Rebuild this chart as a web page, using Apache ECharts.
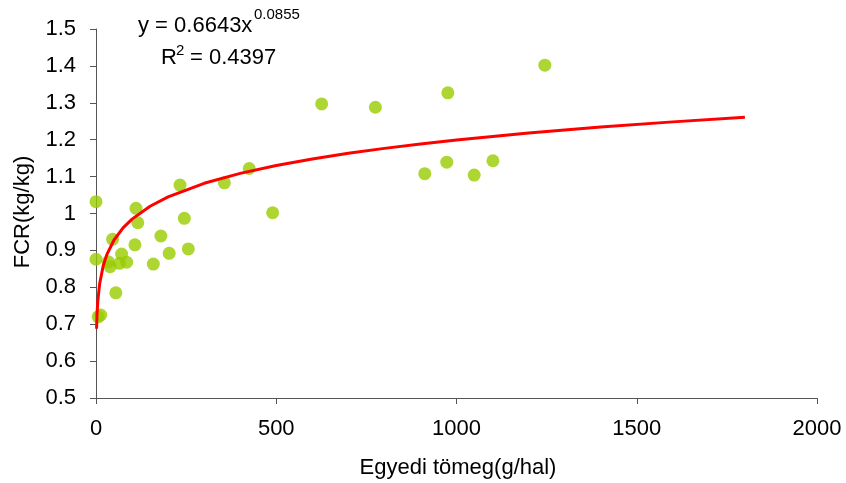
<!DOCTYPE html>
<html>
<head>
<meta charset="utf-8">
<script src="https://cdn.jsdelivr.net/npm/echarts@6/dist/echarts.min.js"></script>
<style>html,body{margin:0;padding:0;background:#fff}#c{width:846px;height:483px}</style>
</head>
<body>
<div id="c"></div>
<script>
var pointX = [0, 0, 6, 13, 34, 39, 46, 55, 65, 71, 85, 108, 111, 116, 159, 180, 203, 233, 245, 256, 356, 425, 490, 626, 775, 912, 973, 976, 1049, 1101, 1245];
var pointY = [1.032, 0.876, 0.720, 0.725, 0.869, 0.856, 0.930, 0.785, 0.865, 0.890, 0.868, 0.915, 1.014, 0.975, 0.863, 0.939, 0.892, 1.077, 0.987, 0.904, 1.083, 1.122, 1.002, 1.297, 1.288, 1.108, 1.139, 1.327, 1.104, 1.143, 1.402];
var trendX = [1.5, 3, 5, 10, 20, 30, 50, 75, 100, 150, 200, 300, 400, 500, 600, 700, 800, 900, 1000, 1200, 1400, 1600, 1800];
var trendY = [0.6877, 0.7297, 0.7623, 0.8088, 0.8582, 0.8885, 0.9282, 0.9609, 0.9848, 1.0196, 1.0450, 1.0818, 1.1088, 1.1301, 1.1479, 1.1631, 1.1765, 1.1884, 1.1991, 1.2180, 1.2341, 1.2483, 1.2609];
var eqMain = 'y = 0.6643x';
var eqExp = '0.0855';
var r2Base = 'R';
var r2Sup = '2';
var r2Rest = '= 0.4397';
var xTitle = 'Egyedi tömeg(g/hal)';
var yTitle = 'FCR(kg/kg)';

var scatterData = pointX.map(function (x, i) { return [x, pointY[i]]; });
var trendData = trendX.map(function (x, i) { return [x, trendY[i]]; });
var F = 'Liberation Sans, Arial, sans-serif';
var axisColor = '#555';

var chart = echarts.init(document.getElementById('c'), null, { renderer: 'canvas' });
chart.setOption({
  animation: false,
  backgroundColor: '#fff',
  grid: { left: 96, right: 29, top: 29, bottom: 85, containLabel: false },
  xAxis: {
    type: 'value', min: 0, max: 2000, interval: 500,
    axisLine: { show: true, onZero: false, lineStyle: { color: axisColor, width: 1 } },
    axisTick: { show: true, inside: false, length: 6, lineStyle: { color: axisColor } },
    axisLabel: { color: '#000', fontFamily: F, fontSize: 22, margin: 20,
      formatter: function (v) { return String(v); } },
    splitLine: { show: false }
  },
  yAxis: {
    type: 'value', min: 0.5, max: 1.5, interval: 0.1,
    axisLine: { show: true, onZero: false, lineStyle: { color: axisColor, width: 1 } },
    axisTick: { show: true, inside: false, length: 6, lineStyle: { color: axisColor } },
    axisLabel: { color: '#000', fontFamily: F, fontSize: 22, margin: 20,
      formatter: function (v) { return String(+v.toFixed(1)); } },
    splitLine: { show: false }
  },
  series: [
    {
      type: 'scatter', data: scatterData, symbol: 'circle', symbolSize: 13,
      itemStyle: { color: '#99cc00' }, z: 2
    },
    {
      type: 'line', data: trendData, showSymbol: false, smooth: false,
      lineStyle: { color: '#ff0000', width: 3 }, z: 3
    }
  ],
  graphic: [
    { type: 'text', x: 138, y: 26, style: { text: eqMain, font: '22px ' + F, fill: '#000', align: 'left', verticalAlign: 'middle' } },
    { type: 'text', x: 254, y: 15, style: { text: eqExp, font: '15px ' + F, fill: '#000', align: 'left', verticalAlign: 'middle' } },
    { type: 'text', x: 161, y: 58, style: { text: r2Base, font: '22px ' + F, fill: '#000', align: 'left', verticalAlign: 'middle' } },
    { type: 'text', x: 176, y: 51, style: { text: r2Sup, font: '15px ' + F, fill: '#000', align: 'left', verticalAlign: 'middle' } },
    { type: 'text', x: 190, y: 58, style: { text: r2Rest, font: '22px ' + F, fill: '#000', align: 'left', verticalAlign: 'middle' } },
    { type: 'text', x: 458, y: 468, style: { text: xTitle, font: '22px ' + F, fill: '#000', align: 'center', verticalAlign: 'middle' } },
    { type: 'text', x: 23, y: 212, rotation: Math.PI / 2, style: { text: yTitle, font: '22px ' + F, fill: '#000', align: 'center', verticalAlign: 'middle' } }
  ]
});
</script>
</body>
</html>
